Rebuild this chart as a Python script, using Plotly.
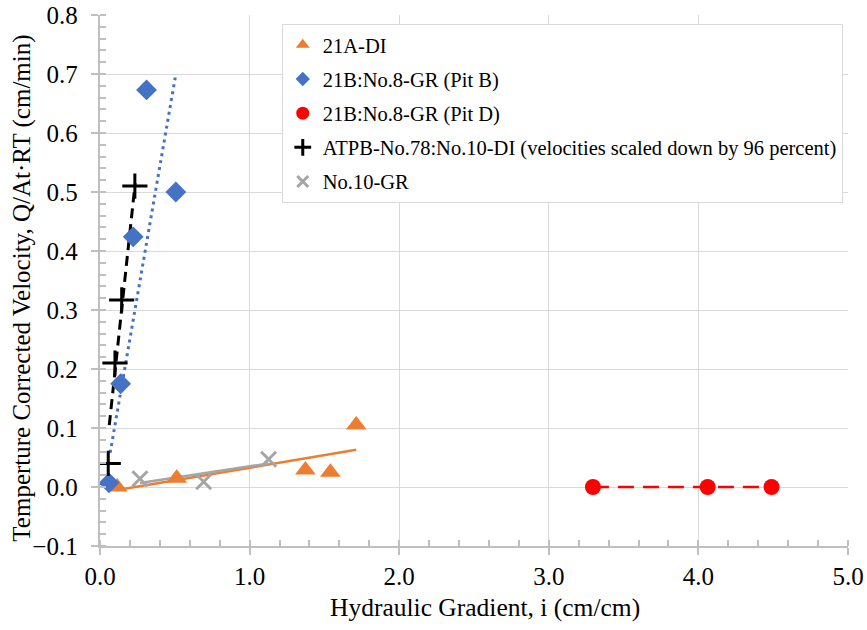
import numpy as np
import plotly.graph_objects as go

# ---- data ----
a21_x = [0.115, 0.513, 1.373, 1.54, 1.713]
a21_y = [0.0, 0.015, 0.029, 0.025, 0.105]

pitb_x = [0.06, 0.138, 0.222, 0.311, 0.507]
pitb_y = [0.007, 0.175, 0.424, 0.673, 0.5]
pitb_fit_x = [0.068, 0.507]
pitb_fit_y = [0.058, 0.70]

pitd_x = [3.295, 4.062, 4.489]
pitd_y = [0.0, 0.0, 0.0]

atpb_x = [0.055, 0.10, 0.145, 0.233]
atpb_y = [0.040, 0.210, 0.317, 0.510]
atpb_fit_x = [0.062, 0.235]
atpb_fit_y = [0.105, 0.515]

gr10_x = [0.267, 0.693, 1.127]
gr10_y = [0.014, 0.009, 0.047]

names = ["21A-DI", "21B:No.8-GR (Pit B)", "21B:No.8-GR (Pit D)",
         "ATPB-No.78:No.10-DI (velocities scaled down by 96 percent)", "No.10-GR"]
x_title = "Hydraulic Gradient, i (cm/cm)"
y_title = "Temperture Corrected Velocity, Q/At·RT (cm/min)"

ORANGE = "#ED7D31"
BLUE = "#4472C4"
RED = "#FF0000"
GRAY = "#A5A5A5"
FONT = "Liberation Serif, Times New Roman, serif"

def linfit(x, y):
    m, b = np.polyfit(x, y, 1)
    xs = np.array([min(x), max(x)])
    return xs, m * xs + b

fig = go.Figure()

ox, oy = linfit(a21_x, a21_y)
fig.add_trace(go.Scatter(x=ox, y=oy, mode="lines", line=dict(color=ORANGE, width=2.5),
                         showlegend=False, hoverinfo="skip"))
gx, gy = linfit(gr10_x, gr10_y)
fig.add_trace(go.Scatter(x=gx, y=gy, mode="lines", line=dict(color=GRAY, width=2.5),
                         showlegend=False, hoverinfo="skip"))
fig.add_trace(go.Scatter(x=pitb_fit_x, y=pitb_fit_y, mode="lines",
                         line=dict(color=BLUE, width=3, dash="3px,4px"),
                         showlegend=False, hoverinfo="skip"))
fig.add_trace(go.Scatter(x=atpb_fit_x, y=atpb_fit_y, mode="lines",
                         line=dict(color="black", width=3, dash="10px,6px"),
                         showlegend=False, hoverinfo="skip"))
fig.add_trace(go.Scatter(x=pitd_x, y=pitd_y, mode="lines",
                         line=dict(color=RED, width=2.5, dash="16px,9px"),
                         showlegend=False, hoverinfo="skip"))

series = [
    (a21_x, a21_y, dict(symbol="triangle-up", color=ORANGE), 18, 12),
    (pitb_x, pitb_y, dict(symbol="diamond", color=BLUE), 16, 11),
    (pitd_x, pitd_y, dict(symbol="circle", color=RED), 16, 13),
    (atpb_x, atpb_y, dict(symbol="cross-thin", color="black",
                          line=dict(color="black", width=3)), 18, 12),
    (gr10_x, gr10_y, dict(symbol="x-thin", color=GRAY,
                          line=dict(color=GRAY, width=3)), 15, 11),
]
for i, (xs, ys, mk, size, lsize) in enumerate(series):
    fig.add_trace(go.Scatter(x=xs, y=ys, mode="markers", name=names[i], showlegend=False,
                             marker=dict(size=size, **mk)))
for i, (xs, ys, mk, size, lsize) in enumerate(series):
    fig.add_trace(go.Scatter(x=[None], y=[None], mode="markers", name=names[i],
                             legendgroup=f"g{i}", marker=dict(size=lsize, **mk)))

axis_common = dict(
    showgrid=True, gridcolor="#D9D9D9", gridwidth=1,
    showline=True, linecolor="#BFBFBF", linewidth=2,
    ticks="outside", tickcolor="#BFBFBF", tickwidth=2,
    zeroline=False, tickformat=".1f", automargin=False,
    tickfont=dict(family=FONT, size=25, color="black"),
)

fig.update_xaxes(range=[0, 5], dtick=1, ticklen=7,
                 minor=dict(dtick=0.2, ticks="inside", ticklen=6, tickcolor="#BFBFBF",
                            tickwidth=2, showgrid=False),
                 **axis_common)
fig.update_yaxes(range=[-0.1, 0.8], dtick=0.1, ticklen=7, ticksuffix="\u2004",
                 minor=dict(dtick=0.02, ticks="inside", ticklen=6, tickcolor="#BFBFBF",
                            tickwidth=2, showgrid=False),
                 **axis_common)

fig.add_annotation(text=x_title, xref="paper", yref="paper", x=0.515, y=-0.115,
                   xanchor="center", yanchor="middle", showarrow=False,
                   font=dict(family=FONT, size=25.5, color="black"))
fig.add_annotation(text=y_title, xref="paper", yref="paper", x=-0.104, y=0.485,
                   xanchor="center", yanchor="middle", showarrow=False, textangle=-90,
                   font=dict(family=FONT, size=25, color="black"))

fig.update_layout(
    width=867, height=630,
    margin=dict(l=100, r=19, t=15, b=84),
    plot_bgcolor="white", paper_bgcolor="white",
    font=dict(family=FONT, color="black"),
    legend=dict(x=0.243, y=0.983, xanchor="left", yanchor="top",
                bgcolor="white", bordercolor="#D9D9D9", borderwidth=1,
                font=dict(family=FONT, size=20.5, color="black"),
                traceorder="grouped", tracegroupgap=4.5, itemwidth=30),
)

fig.write_html("out.html")
